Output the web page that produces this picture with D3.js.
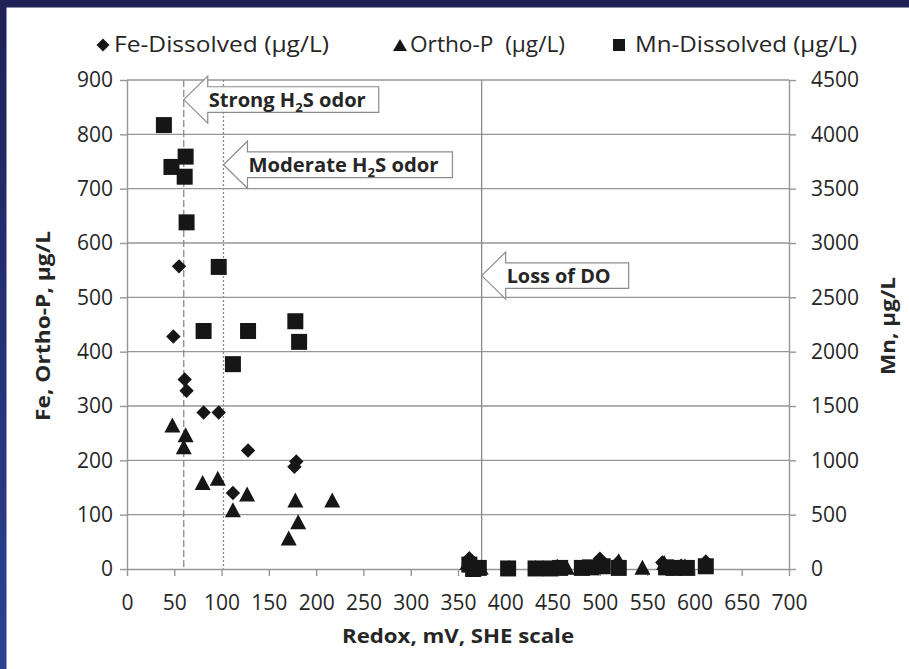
<!DOCTYPE html>
<html>
<head>
<meta charset="utf-8">
<script src="https://cdn.jsdelivr.net/npm/d3@7"></script>
<style>
  html, body { margin: 0; padding: 0; background: #fff; }
  svg { display: block; }
  text { font-family: "Open Sans", "DejaVu Sans", sans-serif; fill: #262626; }
</style>
</head>
<body>
<svg id="chart" width="909" height="669"></svg>
<script>
// Redox potential (mV, SHE) paired with concentration, µg/L
const feDissolved = [
  [49, 428], [55, 557], [61, 349], [63, 328], [81, 288], [97, 288],
  [128, 218], [112, 140], [179, 198], [177, 188],
  [362, 20], [368, 8], [404, 3], [432, 3], [455, 5], [482, 5],
  [500, 19], [519, 12], [566, 12], [586, 6], [612, 14]
];
const orthoP = [
  [48, 265], [62, 247], [60, 225], [80, 159], [96, 167], [112, 109],
  [127, 138], [178, 127], [181, 87], [171, 57], [217, 127],
  [360, 12], [374, 3], [465, 3], [495, 9], [520, 15], [545, 3],
  [568, 12], [590, 6], [612, 10]
];
// Mn is plotted on the secondary (right) axis
const mnDissolved = [
  [39, 4085], [47, 3700], [62, 3795], [61, 3610], [63, 3190], [97, 2780],
  [81, 2190], [128, 2190], [112, 1885], [178, 2280], [182, 2090],
  [362, 40], [366, 0], [372, 10], [403, 5], [432, 5], [448, 5], [458, 10],
  [481, 10], [491, 15], [503, 25], [520, 10], [570, 15], [578, 10], [592, 10], [612, 25]
];

const xTicks = [0, 50, 100, 150, 200, 250, 300, 350, 400, 450, 500, 550, 600, 650, 700];
const leftTicks = [0, 100, 200, 300, 400, 500, 600, 700, 800, 900];
const rightTicks = [0, 500, 1000, 1500, 2000, 2500, 3000, 3500, 4000, 4500];

const seriesNames = ["Fe-Dissolved (µg/L)", "Ortho-P  (µg/L)", "Mn-Dissolved (µg/L)"];

// Redox thresholds: strong odor, moderate odor, loss of dissolved oxygen
const thresholdRedox = [60, 102, 375];
const calloutLabels = [["Strong H", "2", "S odor"], ["Moderate H", "2", "S odor"], ["Loss of DO", "", ""]];
const calloutLevels = [864, 744, 540];   // vertical placement, left-axis units

const svg = d3.select("#chart");

// frame bands
const grad = svg.append("defs").append("linearGradient")
  .attr("id", "sideband").attr("x1", 0).attr("y1", 0).attr("x2", 0).attr("y2", 1);
grad.append("stop").attr("offset", "0%").attr("stop-color", "#1f2157");
grad.append("stop").attr("offset", "100%").attr("stop-color", "#2b4294");
svg.append("rect").attr("x", 0).attr("y", 0).attr("width", 909).attr("height", 7.5).attr("fill", "#1f2157");
svg.append("rect").attr("x", 0).attr("y", 0).attr("width", 6.5).attr("height", 669).attr("fill", "url(#sideband)");

const x = d3.scaleLinear().domain([0, 700]).range([127, 789]);
const yL = d3.scaleLinear().domain([0, 900]).range([569, 80]);
const yR = d3.scaleLinear().domain([0, 4500]).range([569, 80]);

const gridColor = "#969696";

// horizontal gridlines
svg.append("g").selectAll("line").data(leftTicks.slice(1)).join("line")
  .attr("x1", x(0)).attr("x2", x(700))
  .attr("y1", d => yL(d)).attr("y2", d => yL(d))
  .attr("stroke", gridColor).attr("stroke-width", 1.4);

// threshold lines
const thrStyles = [
  { dash: "7,3", color: "#8a8a8a", w: 1.3 },
  { dash: "2,2", color: "#8a8a8a", w: 1.3 },
  { dash: null, color: "#8a8a8a", w: 1.3 }
];
svg.append("g").selectAll("line").data(thresholdRedox).join("line")
  .attr("x1", d => x(d)).attr("x2", d => x(d))
  .attr("y1", yL(900)).attr("y2", yL(0))
  .attr("stroke", (d, i) => thrStyles[i].color)
  .attr("stroke-width", (d, i) => thrStyles[i].w)
  .attr("stroke-dasharray", (d, i) => thrStyles[i].dash);

function styleAxis(g) {
  g.selectAll(".domain").attr("stroke", gridColor).attr("stroke-width", 1.4);
  g.selectAll(".tick line").attr("stroke", gridColor).attr("stroke-width", 1.4);
  g.selectAll(".tick text").attr("font-size", 21).attr("fill", "#262626")
    .attr("font-family", "'Open Sans', sans-serif");
}

const plain = d3.format("d");
svg.append("g").attr("transform", `translate(${x(0)},0)`)
  .call(d3.axisLeft(yL).tickValues(leftTicks).tickFormat(plain).tickSize(7).tickSizeOuter(0).tickPadding(7))
  .call(styleAxis);
svg.append("g").attr("transform", `translate(${x(700)},0)`)
  .call(d3.axisRight(yR).tickValues(rightTicks).tickFormat(plain).tickSize(7).tickSizeOuter(0).tickPadding(15))
  .call(styleAxis);
svg.append("g").attr("transform", `translate(0,${yL(0)})`)
  .call(d3.axisBottom(x).tickValues(xTicks).tickFormat(plain).tickSize(7).tickSizeOuter(0).tickPadding(19))
  .call(styleAxis);

// marker shapes
const diamond = r => `M0,${-r}L${r},0L0,${r}L${-r},0Z`;
const triangle = (w, h) => `M0,${-h / 2}L${w / 2},${h / 2}L${-w / 2},${h / 2}Z`;
const square = s => `M${-s / 2},${-s / 2}h${s}v${s}h${-s}Z`;
const ink = "#161616";

svg.append("g").selectAll("path").data(feDissolved).join("path")
  .attr("d", diamond(7.2))
  .attr("transform", d => `translate(${x(d[0])},${yL(d[1])})`)
  .attr("fill", ink);
svg.append("g").selectAll("path").data(orthoP).join("path")
  .attr("d", triangle(16, 15))
  .attr("transform", d => `translate(${x(d[0])},${yL(d[1])})`)
  .attr("fill", ink);
svg.append("g").selectAll("path").data(mnDissolved).join("path")
  .attr("d", square(16))
  .attr("transform", d => `translate(${x(d[0])},${yR(d[1])})`)
  .attr("fill", ink);

// left-pointing callouts with labels
const calloutBody = [171, 205, 123];
const calloutText = [157, 190, 104];
calloutLabels.forEach((parts, i) => {
  const tx = x(thresholdRedox[i]);
  const ty = yL(calloutLevels[i]);
  const hl = 24, hh = 23.5, bh = 12.8, L = calloutBody[i];
  const p = `M${tx},${ty}L${tx + hl},${ty - hh}L${tx + hl},${ty - bh}L${tx + hl + L},${ty - bh}` +
            `L${tx + hl + L},${ty + bh}L${tx + hl},${ty + bh}L${tx + hl},${ty + hh}Z`;
  svg.append("path").attr("d", p).attr("fill", "#fff").attr("stroke", "#8c8c8c").attr("stroke-width", 1.2);
  const t = svg.append("text").attr("x", tx + hl + 1).attr("y", ty + 7.3)
    .attr("font-size", 20).attr("font-weight", "bold").attr("fill", "#1e1e1e")
    .attr("textLength", calloutText[i]).attr("lengthAdjust", "spacingAndGlyphs");
  t.append("tspan").text(parts[0]);
  if (parts[1]) {
    t.append("tspan").attr("font-size", 13).attr("dy", 5).text(parts[1]);
    t.append("tspan").attr("dy", -5).text(parts[2]);
  }
});

// legend
const legendX = [103, 400, 619];
const legendTextX = [114, 410, 635];
const legendLen = [215, 155, 222];
const legendShapes = [diamond(6.5), triangle(14, 12), square(12)];
seriesNames.forEach((name, i) => {
  svg.append("path").attr("d", legendShapes[i])
    .attr("transform", `translate(${legendX[i]},45)`).attr("fill", ink);
  svg.append("text").attr("x", legendTextX[i]).attr("y", 52)
    .attr("font-size", 21).style("white-space", "pre")
    .attr("textLength", legendLen[i]).attr("lengthAdjust", "spacingAndGlyphs")
    .text(name);
});

// axis titles
svg.append("text").attr("x", (x(0) + x(700)) / 2).attr("y", 643)
  .attr("text-anchor", "middle").attr("font-size", 20).attr("font-weight", "bold")
  .attr("textLength", 232).attr("lengthAdjust", "spacingAndGlyphs")
  .text("Redox, mV, SHE scale");
svg.append("text").attr("transform", "translate(50,326) rotate(-90)")
  .attr("text-anchor", "middle").attr("font-size", 20).attr("font-weight", "bold")
  .attr("textLength", 190).attr("lengthAdjust", "spacingAndGlyphs")
  .text("Fe, Ortho-P, µg/L");
svg.append("text").attr("transform", "translate(895,326) rotate(-90)")
  .attr("text-anchor", "middle").attr("font-size", 20).attr("font-weight", "bold")
  .attr("textLength", 98).attr("lengthAdjust", "spacingAndGlyphs")
  .text("Mn, µg/L");
</script>
</body>
</html>
